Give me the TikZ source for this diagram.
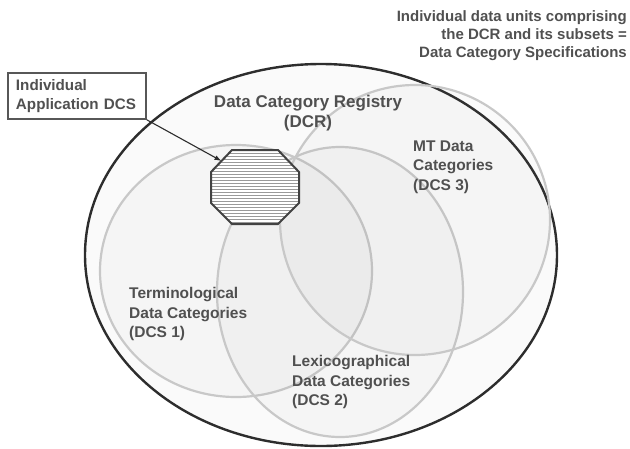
\documentclass[tikz,border=0pt]{standalone}
\usepackage{fontspec}
\setmainfont{Liberation Sans}
\usepackage{tikz}
\usetikzlibrary{arrows.meta, patterns}
\definecolor{txtgray}{RGB}{80,80,80}
\definecolor{rimgray}{RGB}{45,45,45}
\definecolor{setgray}{RGB}{200,200,200}

\begin{document}
\begin{tikzpicture}[
      x=1pt, y=-1pt,
      label/.style={inner sep=0, font=\fontsize{15.5}{19.5}\selectfont\bfseries, text=txtgray},
      dcs/.style={draw=setgray, line width=2.2pt, fill=gray, fill opacity=0.04},
      appbox/.style={draw=rimgray!80, line width=1.6pt, fill=white, inner xsep=8pt,
                     minimum height=46pt, text width=122pt, align=left,
                     font=\fontsize{15.2}{19}\selectfont\bfseries, text=txtgray},
      dcsoct/.style={draw=rimgray!90, line width=2pt, line join=miter,
                     pattern=horizontal lines, pattern color=gray!80},
    ]
    \useasboundingbox (0,0) rectangle (630,448);

    % ---- registry and its subsets ----
    \draw[draw=rimgray, line width=2.4pt, fill=gray!4] (321,255) ellipse [x radius=236, y radius=191];
    \draw[dcs] (236,271) ellipse [x radius=136, y radius=126];
    \draw[dcs] (340,292) ellipse [x radius=123, y radius=145];
    \draw[dcs] (415,220) ellipse [x radius=135, y radius=135];

    % individual application set (octagon)
    \fill[white] (232,150) -- (278,150) -- (299,172) -- (299,203) -- (278,224)
      -- (232,224) -- (211,203) -- (211,172) -- cycle;
    \draw[dcsoct] (232,150) -- (278,150) -- (299,172) -- (299,203) -- (278,224)
      -- (232,224) -- (211,203) -- (211,172) -- cycle;
    \coordinate (octnw) at (221.5,161);

    % ---- labels ----
    \node[label, font=\fontsize{17}{20}\selectfont\bfseries, align=center] (dcr) at (308,113)
      {Data Category Registry\\(DCR)};
    \node[label, anchor=west, align=left] (mt) at (413,167) {MT Data\\Categories\\(DCS 3)};
    \node[label, anchor=west, align=left] (term) at (129,314)
      {Terminological\\Data Categories\\(DCS 1)};
    \node[label, anchor=west, align=left] (lex) at (292,382)
      {Lexicographical\\Data Categories\\(DCS 2)};
    \node[label, anchor=east, align=right, font=\fontsize{15}{18}\selectfont\bfseries] (dcspec) at (627,36)
      {Individual data units comprising\\the DCR and its subsets =\\Data Category Specifications};

    % Callout box and arrow
    \node[appbox] (app) at (77,96) {Individual\\Application DCS};
    \draw[-{Latex[length=7pt, width=5pt]}, rimgray, line width=1.1pt] (app.south east) -- (octnw);

  \end{tikzpicture}
\end{document}
